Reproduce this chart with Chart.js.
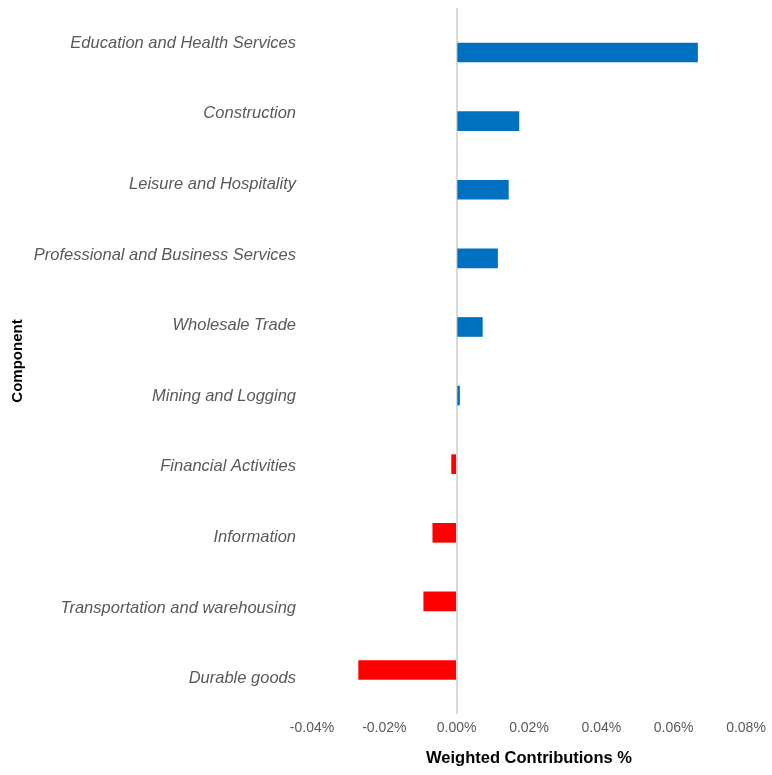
<!DOCTYPE html>
<html lang="en">
<head>
  <meta charset="UTF-8" />
  <title>Weighted Contributions</title>
  <style>
    * { margin: 0; padding: 0; }
    body { background: #fff; }
    .chartBox { width: 772px; height: 775px; }
  </style>
</head>
<body>
  <div class="chartBox"><canvas id="myChart"></canvas></div>
  <script src="https://cdn.jsdelivr.net/npm/chart.js@4"></script>
  <script>
    const labels = [
      "Education and Health Services",
      "Construction",
      "Leisure and Hospitality",
      "Professional and Business Services",
      "Wholesale Trade",
      "Mining and Logging",
      "Financial Activities",
      "Information",
      "Transportation and warehousing",
      "Durable goods"
    ];

    // weighted contributions, in percent
    const values = [0.0666, 0.0172, 0.0143, 0.0113, 0.0071, 0.0008, -0.0014, -0.0066, -0.0091, -0.0271];

    const xTicks = [-0.04, -0.02, 0, 0.02, 0.04, 0.06, 0.08];

    const colors = values.map(v => v >= 0 ? "#0070C0" : "#FF0000");

    const data = {
      labels: labels,
      datasets: [{
        label: "Weighted Contributions %",
        data: values.map((v, i) => ({ x: v, y: i })),
        backgroundColor: colors,
        borderWidth: 0,
        barThickness: 19,
        yAxisID: "y"
      }]
    };

    const options = {
      responsive: true,
      maintainAspectRatio: false,
      animation: false,
      indexAxis: "y",
      layout: { padding: { top: 8, right: 26, bottom: 0, left: 0 } },
      scales: {
        x: {
          type: "linear",
          min: xTicks[0],
          max: xTicks[xTicks.length - 1],
          afterBuildTicks: (scale) => { scale.ticks = xTicks.map(v => ({ value: v })); },
          afterFit: (scale) => { scale.height = 61; },
          border: { display: false },
          grid: {
            drawTicks: false,
            lineWidth: 2,
            color: (ctx) => (ctx.tick && Math.abs(ctx.tick.value) < 1e-9) ? "#d9d9d9" : "rgba(0,0,0,0)"
          },
          ticks: {
            padding: 6,
            color: "#595959",
            font: { family: "Liberation Sans", size: 14 },
            callback: (v) => (Math.abs(v) < 1e-9 ? 0 : v).toFixed(2) + "%"
          },
          title: {
            display: true,
            text: "Weighted Contributions %",
            color: "#000",
            padding: { top: 0, bottom: 7 },
            font: { family: "Liberation Sans", size: 16.5, weight: "bold" }
          }
        },
        y: {
          type: "linear",
          display: false,
          offset: false,
          reverse: true,
          min: -0.649,
          max: 9.641
        },
        y2: {
          type: "category",
          position: "left",
          labels: labels,
          offset: true,
          afterFit: (scale) => {
            scale.width = 312;
            scale.paddingTop = 0;
            scale.paddingBottom = 0;
          },
          border: { display: false },
          grid: { display: false, drawTicks: false },
          ticks: {
            padding: 16,
            color: "#595959",
            font: { family: "Liberation Sans", size: 16.5, style: "italic" }
          },
          title: {
            display: true,
            text: "Component",
            color: "#000",
            padding: { top: 9, bottom: 0 },
            font: { family: "Liberation Sans", size: 15, weight: "bold" }
          }
        }
      },
      plugins: {
        legend: { display: false },
        tooltip: { enabled: false }
      }
    };

    const ctx = document.getElementById("myChart").getContext("2d");
    const myChart = new Chart(ctx, { type: "bar", data: data, options: options });
  </script>
</body>
</html>
